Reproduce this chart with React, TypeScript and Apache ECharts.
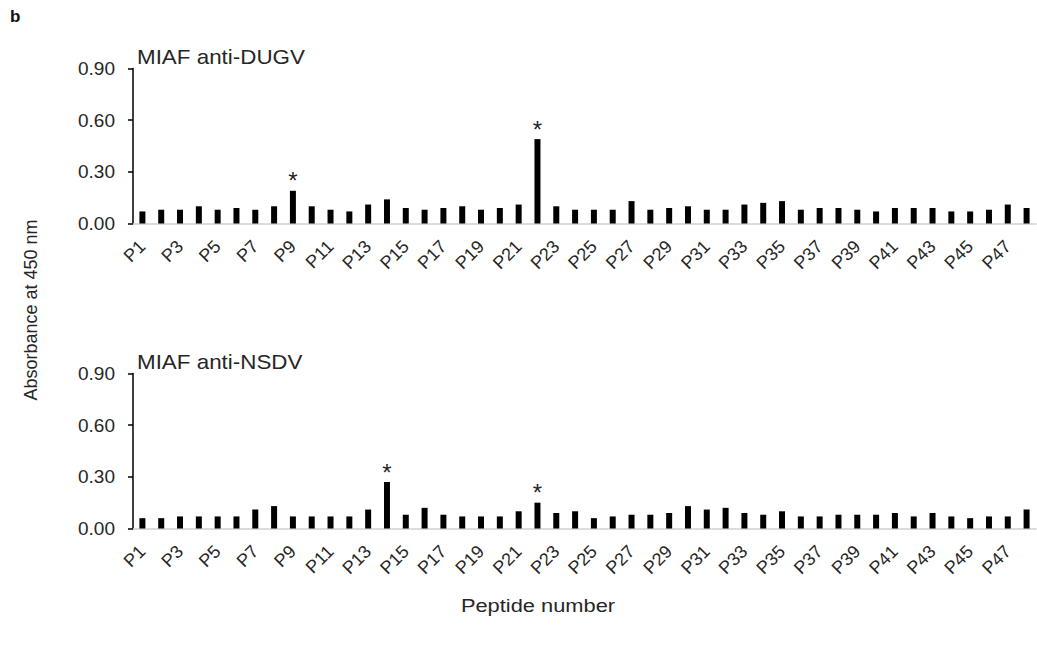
import React, { useEffect, useRef } from "react";
import * as echarts from "echarts";

const categories: string[] = Array.from({ length: 48 }, (_, i) => `P${i + 1}`);

const dugvValues: number[] = [
  0.07, 0.08, 0.08, 0.10, 0.08, 0.09, 0.08, 0.10, 0.19, 0.10,
  0.08, 0.07, 0.11, 0.14, 0.09, 0.08, 0.09, 0.10, 0.08, 0.09,
  0.11, 0.49, 0.10, 0.08, 0.08, 0.08, 0.13, 0.08, 0.09, 0.10,
  0.08, 0.08, 0.11, 0.12, 0.13, 0.08, 0.09, 0.09, 0.08, 0.07,
  0.09, 0.09, 0.09, 0.07, 0.07, 0.08, 0.11, 0.09,
];

const nsdvValues: number[] = [
  0.06, 0.06, 0.07, 0.07, 0.07, 0.07, 0.11, 0.13, 0.07, 0.07,
  0.07, 0.07, 0.11, 0.27, 0.08, 0.12, 0.08, 0.07, 0.07, 0.07,
  0.10, 0.15, 0.09, 0.10, 0.06, 0.07, 0.08, 0.08, 0.09, 0.13,
  0.11, 0.12, 0.09, 0.08, 0.10, 0.07, 0.07, 0.08, 0.08, 0.08,
  0.09, 0.07, 0.09, 0.07, 0.06, 0.07, 0.07, 0.11,
];

const dugvStars: string[] = ["P9", "P22"];
const nsdvStars: string[] = ["P14", "P22"];
const yTicks: number[] = [0, 0.3, 0.6, 0.9];

const FONT = "Liberation Sans, Arial, sans-serif";
const TEXT = "#262626";

function buildData(values: number[], stars: string[]) {
  return values.map((v, i) =>
    stars.includes(categories[i])
      ? {
          value: v,
          label: {
            show: true,
            position: "top" as const,
            formatter: "*",
            fontSize: 24,
            fontFamily: FONT,
            color: TEXT,
            distance: -2,
          },
        }
      : v
  );
}

export default function App() {
  const ref = useRef<HTMLDivElement>(null);

  useEffect(() => {
    if (!ref.current) return;
    const chart = echarts.init(ref.current, undefined, { renderer: "svg" });
    const grids = [
      { left: 133, right: 1, top: 68.5, height: 155 },
      { left: 133, right: 1, top: 373.5, height: 155 },
    ];
    const xAxis = grids.map((_, gi) => ({
      type: "category" as const,
      gridIndex: gi,
      data: categories,
      axisLine: { lineStyle: { color: "#d0d0d0", width: 1.5 } },
      axisTick: { show: false },
      axisLabel: {
        interval: 1,
        rotate: 45,
        fontSize: 18,
        fontFamily: FONT,
        color: TEXT,
        margin: 20,
      },
    }));
    const yAxis = grids.map((_, gi) => ({
      type: "value" as const,
      gridIndex: gi,
      min: yTicks[0],
      max: yTicks[yTicks.length - 1],
      interval: 0.3,
      splitLine: { show: false },
      axisLine: { show: true, lineStyle: { color: "#000", width: 1.5 } },
      axisTick: { show: true, length: 5, lineStyle: { color: "#000", width: 1.5 } },
      axisLabel: {
        fontSize: 19,
        fontFamily: FONT,
        color: TEXT,
        margin: 18,
        formatter: (v: number) => v.toFixed(2),
      },
    }));
    chart.setOption({
      animation: false,
      backgroundColor: "#fff",
      grid: grids,
      xAxis,
      yAxis,
      graphic: [
        {
          type: "text",
          left: 10,
          top: 8,
          style: { text: "b", fontSize: 17, fontWeight: "bold", fontFamily: FONT, fill: "#111" },
        },
        {
          type: "text",
          x: 137,
          y: 57,
          scaleX: 1.12,
          style: {
            text: "MIAF anti-DUGV",
            fontSize: 20,
            fontFamily: FONT,
            fill: TEXT,
            verticalAlign: "middle",
          },
        },
        {
          type: "text",
          x: 137,
          y: 362,
          scaleX: 1.12,
          style: {
            text: "MIAF anti-NSDV",
            fontSize: 20,
            fontFamily: FONT,
            fill: TEXT,
            verticalAlign: "middle",
          },
        },
        {
          type: "text",
          x: 31,
          y: 310,
          rotation: Math.PI / 2,
          style: {
            text: "Absorbance at 450 nm",
            fontSize: 18,
            fontFamily: FONT,
            fill: TEXT,
            align: "center",
            verticalAlign: "middle",
          },
        },
        {
          type: "text",
          x: 538,
          y: 605,
          scaleX: 1.15,
          style: {
            text: "Peptide number",
            fontSize: 19,
            fontFamily: FONT,
            fill: TEXT,
            align: "center",
            verticalAlign: "middle",
          },
        },
      ],
      series: [
        {
          type: "bar",
          xAxisIndex: 0,
          yAxisIndex: 0,
          data: buildData(dugvValues, dugvStars),
          barWidth: 6,
          itemStyle: { color: "#000" },
        },
        {
          type: "bar",
          xAxisIndex: 1,
          yAxisIndex: 1,
          data: buildData(nsdvValues, nsdvStars),
          barWidth: 6,
          itemStyle: { color: "#000" },
        },
      ],
    });
    return () => chart.dispose();
  }, []);

  return (
    <div
      ref={ref}
      style={{ position: "fixed", left: 0, top: 0, width: 1037, height: 649, background: "#fff" }}
    />
  );
}
